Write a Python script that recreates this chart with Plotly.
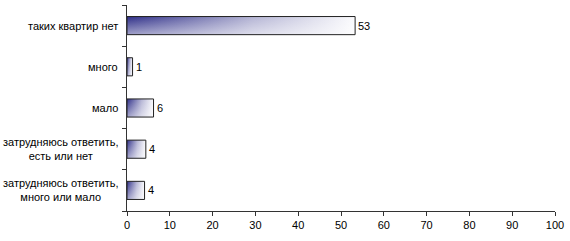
import plotly.graph_objects as go

categories = ["таких квартир нет", "много", "мало",
              "затрудняюсь ответить,<br>есть или нет",
              "затрудняюсь ответить,<br>много или мало"]
values = [53.3, 1.3, 6.2, 4.4, 4.1]
x_ticks = list(range(0, 101, 10))

BAR_W = 0.44
FONT = "Liberation Sans, Arial"
fig = go.Figure()

for i, v in enumerate(values):
    xs = [0, v, v, 0, 0]
    ys = [i - BAR_W / 2, i - BAR_W / 2, i + BAR_W / 2, i + BAR_W / 2, i - BAR_W / 2]
    fig.add_trace(go.Scatter(
        x=xs, y=ys, mode="lines", fill="toself",
        line=dict(color="rgba(0,0,0,0)", width=0),
        fillgradient=dict(type="horizontal",
                          colorscale=[[0, "#2e2e88"], [0.55, "#b4b4d4"], [1, "#fbfbfd"]]),
        hoverinfo="skip", showlegend=False))
    fig.add_trace(go.Scatter(
        x=xs, y=ys, mode="lines", fill="toself",
        line=dict(color="#222222", width=1),
        fillgradient=dict(type="vertical",
                          colorscale=[[0, "rgba(255,255,255,0.55)"], [1, "rgba(255,255,255,0)"]]),
        hoverinfo="skip", showlegend=False))

for i, v in enumerate(values):
    fig.add_annotation(x=v, xref="x", y=i, yref="y", text=f"{v:.0f}",
                       xanchor="left", xshift=1, showarrow=False,
                       font=dict(family=FONT, size=11, color="#000000"))

for i, c in enumerate(categories):
    fig.add_annotation(x=0, xref="paper", y=i, yref="y", text=c,
                       xanchor="right", align="center", xshift=-7,
                       showarrow=False,
                       font=dict(family=FONT, size=11, color="#000000"))

fig.update_layout(
    width=570, height=241,
    margin=dict(l=127, r=15, t=5, b=30),
    paper_bgcolor="white", plot_bgcolor="white",
    font=dict(family=FONT, size=11, color="#000000"),
    xaxis=dict(range=[0, 100], tickvals=x_ticks, ticks="outside", ticklen=4,
               tickcolor="#333333", showline=True, linecolor="#333333", linewidth=1,
               showgrid=False, zeroline=False, fixedrange=True),
    yaxis=dict(range=[len(values) - 0.5, -0.5],
               tickvals=[i - 0.5 for i in range(len(values) + 1)],
               ticktext=["" for _ in range(len(values) + 1)],
               ticks="outside", ticklen=4, tickcolor="#333333",
               showline=True, linecolor="#333333", linewidth=1,
               showgrid=False, zeroline=False, fixedrange=True),
)

fig.write_html("out.html")
